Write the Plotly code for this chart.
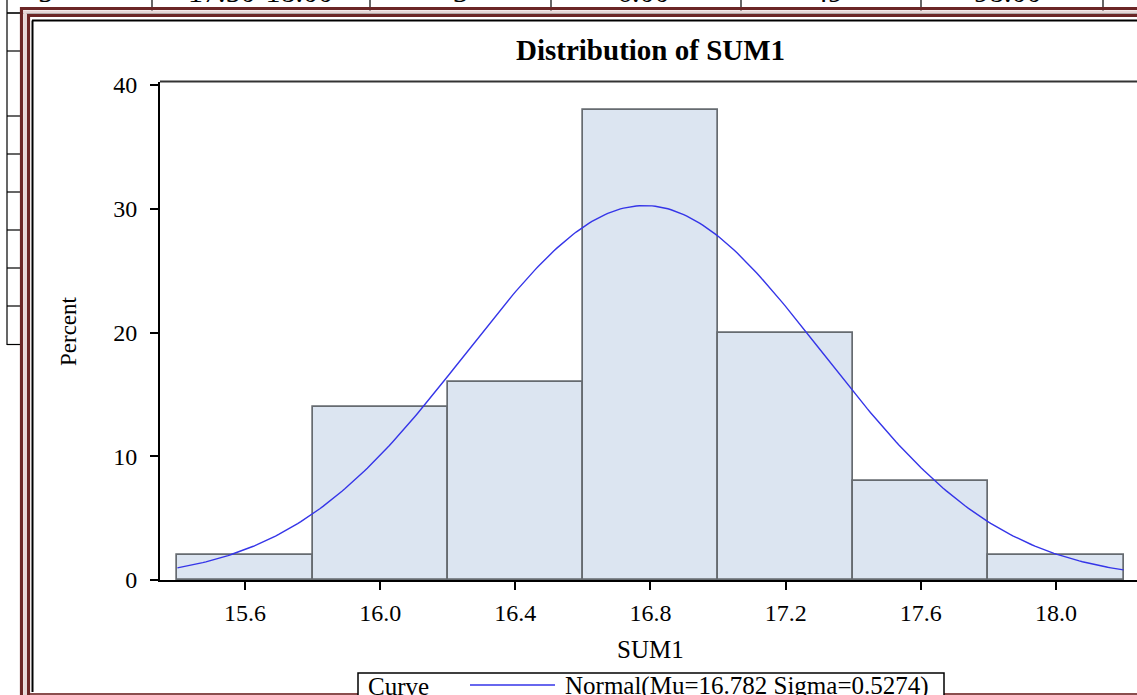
import numpy as np
import plotly.graph_objects as go

# ---- data ----
bin_centers = [15.6, 16.0, 16.4, 16.8, 17.2, 17.6, 18.0]
percents = [2, 14, 16, 38, 20, 8, 2]
bin_width = 0.4
mu = 16.782
sigma = 0.5274
x_ticks = [15.6, 16.0, 16.4, 16.8, 17.2, 17.6, 18.0]
x_tick_labels = ["15.6", "16.0", "16.4", "16.8", "17.2", "17.6", "18.0"]
y_ticks = [0, 10, 20, 30, 40]
table_row = ["5", "17.50-18.00", "3", "6.00", "49", "98.00"]

W, H = 1137, 695
L, R, T, B = 160, 0, 82, 115
PW, PH = W - L - R, H - T - B


def px(x):
    return (x - L) / PW


def py(y):
    return (H - B - y) / PH


FONT = "Liberation Serif, Times New Roman, serif"

# normal curve (defined by the fitted parameters shown in the legend)
lo = bin_centers[0] - bin_width / 2
hi = bin_centers[-1] + bin_width / 2
xc = np.linspace(lo, hi, 300)
yc = 100 * bin_width * np.exp(-0.5 * ((xc - mu) / sigma) ** 2) / (sigma * np.sqrt(2 * np.pi))

fig = go.Figure()
fig.add_trace(go.Bar(
    x=bin_centers, y=percents, width=bin_width,
    marker=dict(color="#dce5f1", line=dict(color="#666b70", width=1.7)),
    showlegend=False, hoverinfo="skip",
))
fig.add_trace(go.Scatter(
    x=xc, y=yc, mode="lines", line=dict(color="#3535e8", width=1.4),
    showlegend=False, hoverinfo="skip",
))

shapes = []


def line(x0, y0, x1, y1, color="black", width=1):
    shapes.append(dict(type="line", xref="paper", yref="paper",
                       x0=px(x0), y0=py(y0), x1=px(x1), y1=py(y1),
                       line=dict(color=color, width=width), layer="above"))


# background table fragments
line(7, 0, 7, 345, "black", 1.2)
for yy in [13, 51, 116, 154, 192, 230, 268, 306, 344.5]:
    line(7, yy, 22, yy, "black", 1.2)
line(7, 13, W, 13, "black", 1.2)
for xx in [152, 370, 551, 741, 921, 1103]:
    line(xx, 0, xx, 13, "black", 1.2)

# maroon frame
MAR = "#6b2626"
line(21.5, 7, 21.5, H, MAR, 3.2)
line(25, 11, 25, H, "#e6d6d6", 3)
line(28.5, 14, 28.5, H, MAR, 3.2)
line(20, 8.5, W, 8.5, MAR, 3.2)
line(23, 12, W, 12, "#e6d6d6", 3)
line(27, 15.5, W, 15.5, MAR, 3.2)
line(32.5, 20.5, 32.5, 692, "black", 2)
line(32, 20.5, W, 20.5, "black", 2)
line(30, 694, W, 694, "#8a4e4e", 2)

# plot frame top line
line(L, 81.5, W, 81.5, "#333333", 2)

# legend box
shapes.append(dict(type="rect", xref="paper", yref="paper",
                   x0=px(358), x1=px(944), y0=py(673), y1=py(720),
                   line=dict(color="black", width=1.5), fillcolor="white", layer="above"))
line(470, 685, 555, 685, "#3535e8", 1.4)

annotations = [
    dict(text="<b>Distribution of SUM1</b>", x=px(650), y=py(50), xref="paper", yref="paper",
         showarrow=False, font=dict(family=FONT, size=29, color="black"),
         xanchor="center", yanchor="middle"),
    dict(text="Percent", x=px(68), y=py(331), xref="paper", yref="paper", textangle=-90,
         showarrow=False, font=dict(family=FONT, size=23, color="black"),
         xanchor="center", yanchor="middle"),
    dict(text="SUM1", x=px(650), y=py(649), xref="paper", yref="paper",
         showarrow=False, font=dict(family=FONT, size=25, color="black"),
         xanchor="center", yanchor="middle"),
    dict(text="Curve", x=px(366), y=py(686), xref="paper", yref="paper",
         showarrow=False, font=dict(family=FONT, size=25, color="black"),
         xanchor="left", yanchor="middle"),
    dict(text=f"Normal(Mu={mu} Sigma={sigma})", x=px(563), y=py(686), xref="paper", yref="paper",
         showarrow=False, font=dict(family=FONT, size=25, color="black"),
         xanchor="left", yanchor="middle"),
]
for txt, cx in zip(table_row, [45, 260, 460, 643, 828, 1008]):
    annotations.append(dict(text=txt, x=px(cx), y=py(10), xref="paper", yref="paper",
                            showarrow=False, font=dict(family=FONT, size=30, color="black"),
                            xanchor="center", yanchor="bottom"))

x_lo = 15.6 - (245 - L) / 337.9
x_hi = 15.6 + (W - 245) / 337.9
y_hi = PH / 12.375

fig.update_layout(
    width=W, height=H,
    margin=dict(l=L, r=R, t=T, b=B, pad=0),
    paper_bgcolor="white", plot_bgcolor="white",
    bargap=0,
    shapes=shapes, annotations=annotations,
    xaxis=dict(range=[x_lo, x_hi], tickvals=x_ticks, ticktext=x_tick_labels,
               showgrid=False, zeroline=False, showline=True, linecolor="black", linewidth=2,
               ticks="outside", ticklen=8, tickwidth=1.5, tickcolor="black",
               ticklabelstandoff=2,
               tickfont=dict(family=FONT, size=24, color="black")),
    yaxis=dict(range=[0, y_hi], tickvals=y_ticks,
               showgrid=False, zeroline=False, showline=True, linecolor="black", linewidth=2,
               ticks="outside", ticklen=8, tickwidth=1.5, tickcolor="black",
               ticklabelstandoff=8,
               tickfont=dict(family=FONT, size=24, color="black")),
)

fig.write_html("out.html", config={"displayModeBar": False},
               post_script="document.body.style.margin='0';document.body.style.overflow='hidden';document.documentElement.style.overflow='hidden';")
